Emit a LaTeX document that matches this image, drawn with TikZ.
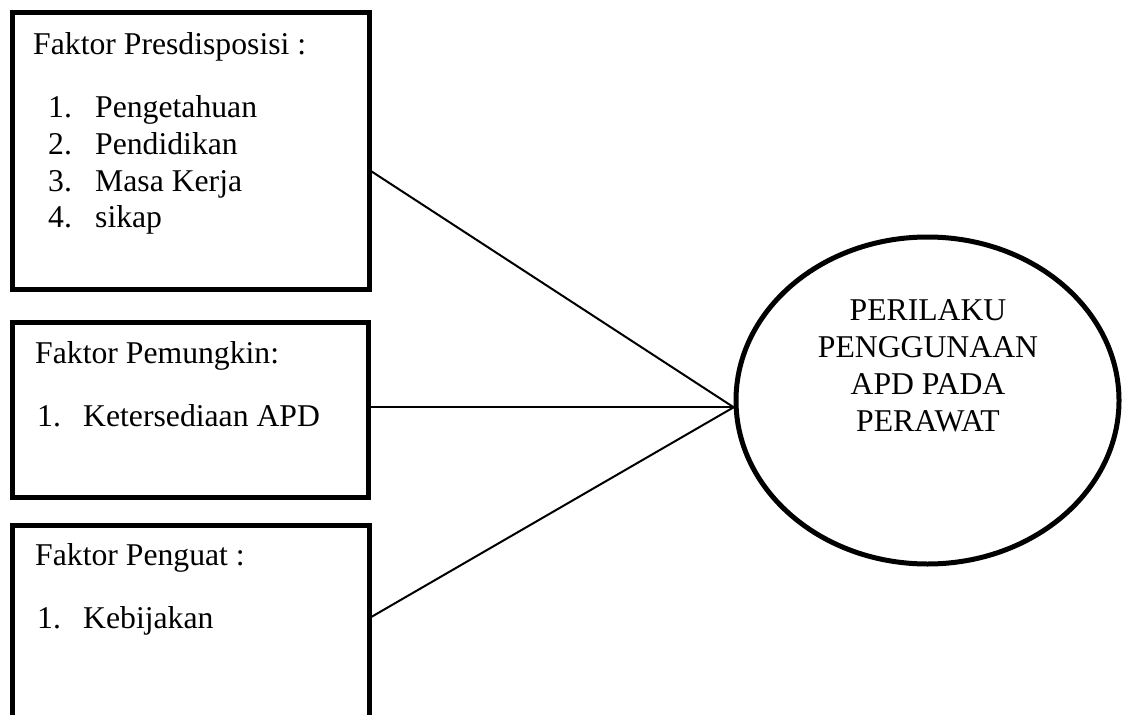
\documentclass[tikz,border=0pt]{standalone}
\usepackage{fontspec}
\setmainfont{Liberation Serif}
\usetikzlibrary{shapes.geometric,calc}
\begin{document}
\begin{tikzpicture}[x=1pt,y=-1pt,
  box/.style={draw, line width=5pt, rectangle, inner sep=0pt, outer sep=0pt, anchor=north west},
  lbl/.style={anchor=base west, inner sep=0pt, font=\fontsize{31.7}{36.5}\selectfont},
  link/.style={line width=2pt}]
\clip (0,0) rectangle (1123,714);
% boxes
\node[box, minimum width=357pt, minimum height=277pt] (b1) at (12.5,12.5) {};
\node[box, minimum width=356pt, minimum height=175pt] (b2) at (12.5,322.5) {};
\node[box, minimum width=357pt, minimum height=230pt] (b3) at (12.5,525) {};
% ellipse
\node[draw, ellipse, line width=5pt, minimum width=383pt, minimum height=327pt, inner sep=0pt] (ell) at (927.5,400.5) {};
\node[anchor=north, inner sep=0pt, align=center, font=\fontsize{31.7}{37}\selectfont] (et) at (928,299) {PERILAKU\\PENGGUNAAN\\APD PADA\\PERAWAT};
% texts
\node[lbl] (h1) at (33,55) {Faktor Presdisposisi :};
\node[lbl] (i11) at (48,118) {\makebox[47pt][l]{1.}Pengetahuan};
\node[lbl] (i12) at (48,154.5) {\makebox[47pt][l]{2.}Pendidikan};
\node[lbl] (i13) at (48,191) {\makebox[47pt][l]{3.}Masa Kerja};
\node[lbl] (i14) at (48,227.5) {\makebox[47pt][l]{4.}sikap};
\node[lbl] (h2) at (35,363) {Faktor Pemungkin:};
\node[lbl] (i21) at (37,426) {\makebox[46pt][l]{1.}Ketersediaan APD};
\node[lbl] (h3) at (35,565) {Faktor Penguat :};
\node[lbl] (i31) at (37,628) {\makebox[46pt][l]{1.}Kebijakan};
% connectors
\coordinate (m) at (ell.182);
\draw[link] ($(b1.north east)!0.569!(b1.south east)$) -- (m);
\draw[link] (m -| b2.east) -- (m);
\draw[link] ($(b3.north east)+(0,93)$) -- (m);
\end{tikzpicture}
\end{document}
